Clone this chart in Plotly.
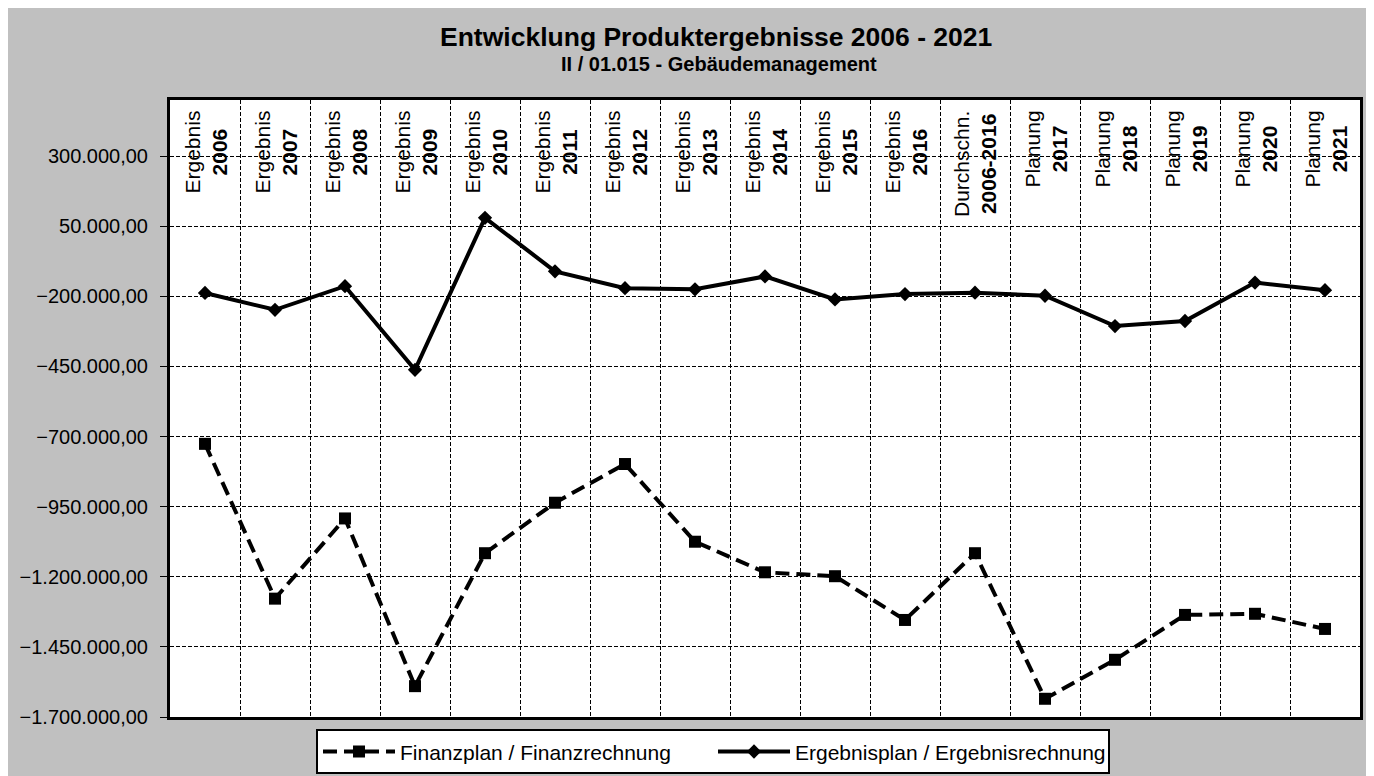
import plotly.graph_objects as go

# category labels (first line / second line)
label_top = ["Ergebnis"] * 11 + ["Durchschn."] + ["Planung"] * 5
label_bottom = ["2006", "2007", "2008", "2009", "2010", "2011", "2012", "2013",
                "2014", "2015", "2016", "2006-2016", "2017", "2018", "2019",
                "2020", "2021"]
categories = [f"{a} {b}" for a, b in zip(label_top, label_bottom)]

# values in EUR
finanz = [-726000, -1278000, -992000, -1590000, -1116000, -936000, -798000,
          -1075000, -1184000, -1198000, -1354000, -1116000, -1635000,
          -1496000, -1336000, -1332000, -1386000]
ergebnis = [-188000, -248000, -164000, -462000, 80000, -111000, -171000,
            -175000, -129000, -211000, -192000, -187000, -198000, -306000,
            -288000, -151000, -178000]

y_ticks = [300000, 50000, -200000, -450000, -700000, -950000, -1200000,
           -1450000, -1700000]

title = "Entwicklung Produktergebnisse 2006 - 2021"
subtitle = "II / 01.015 - Gebäudemanagement"

FONT = "Liberation Sans, Arial, sans-serif"

fig = go.Figure()

fig.add_trace(go.Scatter(
    x=categories, y=finanz,
    mode="lines+markers",
    name="Finanzplan / Finanzrechnung",
    line=dict(color="black", width=4, dash="14px,7px"),
    marker=dict(symbol="square", size=12, color="black"),
))
fig.add_trace(go.Scatter(
    x=categories, y=ergebnis,
    mode="lines+markers",
    name="Ergebnisplan / Ergebnisrechnung",
    line=dict(color="black", width=4),
    marker=dict(symbol="diamond", size=11, color="black"),
))

# rotated category labels at the top of the plot area
for cat, a, b in zip(categories, label_top, label_bottom):
    fig.add_annotation(
        x=cat, y=1, xref="x", yref="paper",
        text=f"{a}<br><b>{b}</b>",
        textangle=-90, showarrow=False,
        xanchor="center", yanchor="top", yshift=-9,
        align="center",
        font=dict(family=FONT, size=21, color="black"),
    )

# title and subtitle above the plot area
fig.add_annotation(
    text=f"<b>{title}</b>",
    x=0.459, y=1, xref="paper", yref="paper", yanchor="middle", yshift=63,
    showarrow=False,
    font=dict(family=FONT, size=26.5, color="black"),
)
fig.add_annotation(
    text=f"<b>{subtitle}</b>",
    x=0.461, y=1, xref="paper", yref="paper", yanchor="middle", yshift=36,
    showarrow=False,
    font=dict(family=FONT, size=20, color="black"),
)

# the page body adds an 8px offset, so the figure is 8px smaller than the window
fig.update_layout(
    width=1366, height=768,
    margin=dict(l=162, r=14, t=92, b=59, autoexpand=False),
    paper_bgcolor="#c0c0c0",
    plot_bgcolor="white",
    separators=",.",
    showlegend=True,
    legend=dict(
        orientation="h",
        x=0.1227, xanchor="left", y=-0.02, yanchor="top",
        bgcolor="white", bordercolor="black", borderwidth=2,
        font=dict(family=FONT, size=21, color="black"),
        itemwidth=72,
        entrywidth=308, entrywidthmode="pixels",
    ),
    xaxis=dict(
        type="category",
        range=[-0.5, len(categories) - 0.5],
        tickson="boundaries",
        showticklabels=False,
        ticks="",
        showgrid=True, gridcolor="black", gridwidth=1, griddash="4px,2px",
        showline=True, linecolor="black", linewidth=3, mirror=True,
        zeroline=False, automargin=False,
    ),
    yaxis=dict(
        range=[-1700000, 500000],
        tickvals=y_ticks,
        tickformat=",.2f",
        ticks="outside", ticklen=7, tickcolor="black", tickwidth=1,
        ticklabelstandoff=8,
        tickfont=dict(family=FONT, size=20, color="black"),
        showgrid=True, gridcolor="black", gridwidth=1, griddash="4px,2px",
        showline=True, linecolor="black", linewidth=3, mirror=True,
        zeroline=False, automargin=False,
    ),
)

fig.write_html("out.html")
